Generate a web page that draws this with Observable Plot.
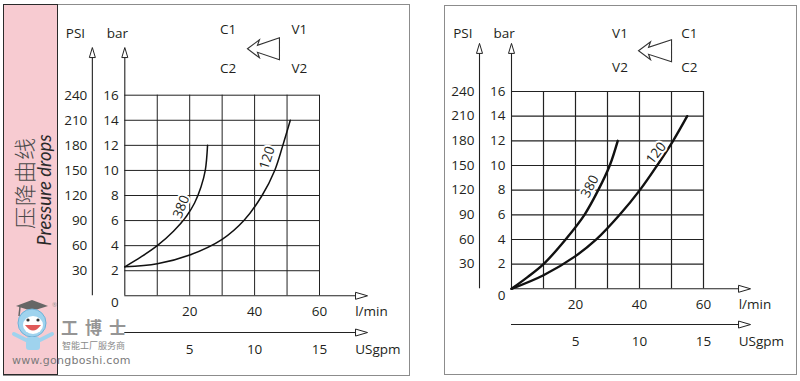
<!DOCTYPE html>
<html>
<head>
<meta charset="utf-8">
<script src="https://cdn.jsdelivr.net/npm/d3@7"></script>
<script src="https://cdn.jsdelivr.net/npm/@observablehq/plot@0.6"></script>
<style>
  body { margin: 0; background: #fff; }
  #wrap { position: relative; width: 800px; height: 381px; overflow: hidden; background: #fff; font-family: "Open Sans", sans-serif; }
  .abs { position: absolute; line-height: 1; }
  .rot { position: absolute; line-height: 1; white-space: nowrap; transform: translate(-50%, -50%) rotate(-90deg); color: #3a3a3a; }
</style>
</head>
<body>
<div id="wrap">
  <div class="abs" style="left:3px;top:4px;width:405px;height:370px;border:1px solid #8c8c8c;"></div>
  <div class="abs" style="left:444px;top:5px;width:351px;height:368px;border:1px solid #8c8c8c;"></div>
  <div class="abs" style="left:3px;top:4px;width:53px;height:369px;background:#f7cbd1;border:1.5px solid #2a2a2a;"></div>
  <div class="rot" style="left:23px;top:183px;font-family:'Noto Sans CJK SC';font-size:22px;font-weight:300;letter-spacing:1px;color:#4a4a4a;">压降曲线</div>
  <div class="rot" style="left:44px;top:190px;font-family:Lato;font-style:italic;font-size:18.5px;color:#2a2a2a;">Pressure drops</div>
  <!-- watermark -->
  <svg class="abs" style="left:8px;top:298px" width="50" height="56" viewBox="0 0 50 56">
    <polygon points="8,8 24,2 40,8 24,13" fill="#666"/>
    <line x1="12" y1="9" x2="11" y2="18" stroke="#666" stroke-width="1.5"/>
    <circle cx="24" cy="25" r="14" fill="#9fd3ee" stroke="#6fb2d8" stroke-width="1"/>
    <ellipse cx="25" cy="27" rx="10" ry="9" fill="#fff"/>
    <path d="M17,27 Q25,38 33,27 Z" fill="#e05a5a"/>
    <circle cx="20" cy="22" r="1.6" fill="#333"/><circle cx="30" cy="22" r="1.6" fill="#333"/>
    <rect x="18" y="39" width="14" height="13" rx="3" fill="#9fd3ee"/>
    <path d="M18,42 L6,36 M32,42 L44,36" stroke="#9fd3ee" stroke-width="4" stroke-linecap="round"/>
  </svg>
  <div class="abs" style="left:61px;top:318px;font-family:'Noto Sans CJK SC';font-weight:700;font-size:17px;letter-spacing:7px;color:#8a8a8a;opacity:0.9;">工博士</div>
  <div class="abs" style="left:62px;top:341px;font-family:'Noto Sans CJK SC';font-size:9px;color:#8a8a8a;">智能工厂服务商</div>
  <div class="abs" style="left:12px;top:355px;font-family:'DejaVu Sans';font-size:11px;letter-spacing:0.3px;color:#7a7a7a;">www.gongboshi.com</div>
  <div class="abs" style="left:52px;top:302px;font-size:6px;color:#999;">®</div>
  <div id="plotL" class="abs" style="left:0;top:0"></div>
  <div id="plotR" class="abs" style="left:420px;top:0"></div>
</div>
<script>
// ---- data ----
const gridLmin = [0, 10, 20, 30, 40, 50, 60];
const gridBar = [2, 4, 6, 8, 10, 12, 14, 16];
const barTicks = [2, 4, 6, 8, 10, 12, 14, 16];
const psiTicks = [30, 60, 90, 120, 150, 180, 210, 240];
const lminTicks = [20, 40, 60];
const usgpmTicks = [5, 10, 15];

// left panel curves [l/min, bar]
const left380 = [[0, 2.31], [5, 3.1], [10, 4.0], [15, 5.15], [19, 6.35], [21.5, 7.4], [23.5, 8.7], [24.8, 10.0], [25.5, 12.0]];
const left120 = [[0, 2.31], [10, 2.55], [20, 3.25], [30, 4.5], [36.7, 6.0], [42.3, 8.0], [46.2, 10.0], [48.7, 12.0], [51, 14.0]];
// right panel curves
const right380 = [[0, 0], [5, 0.95], [10, 2.0], [16.9, 4.0], [22.8, 6.0], [27.1, 8.0], [30.7, 10.0], [33.2, 12.0]];
const right120 = [[0, 0], [10, 1.1], [20, 2.65], [26.5, 4.0], [33.8, 6.0], [40.1, 8.0], [45.5, 10.0], [50.5, 12.0], [54.9, 14.0]];

const curveNames = ["380", "120"];
const portsLeft = [["C1", "V1"], ["C2", "V2"]];
const portsRight = [["V1", "C1"], ["V2", "C2"]];

// ---- symbols ----
const arrowUp = {draw(c) { c.moveTo(0, 0); c.lineTo(-3, 10); c.lineTo(3, 10); c.closePath(); }};
const arrowRight = {draw(c) { c.moveTo(0, 0); c.lineTo(-12, -3.5); c.lineTo(-12, 3.5); c.closePath(); }};
function flowArrow(len) {
  return {draw(c) {
    c.moveTo(0, 0); c.lineTo(12, -9); c.lineTo(10, -3.5); c.lineTo(len, -11);
    c.lineTo(len, 11); c.lineTo(10, 3.5); c.lineTo(12, 9); c.closePath();
  }};
}

function panel(o) {
  const ink = "#231f20";
  const txt = (data, opts) => Plot.text(data, {fill: ink, fontSize: 13.5, ...opts});
  return Plot.plot({
    width: o.width, height: 381,
    x: {domain: [0, 60], range: o.xRange, axis: null},
    y: {domain: [0, 16], range: o.yRange, axis: null},
    style: {background: "transparent", fontFamily: "'Open Sans', sans-serif", overflow: "visible"},
    marks: [
      Plot.ruleX(gridLmin.filter(d => d > 0), {x: d => d, y1: 0, y2: 16, stroke: "#222", strokeWidth: o.gridW}),
      Plot.ruleY(gridBar, {y: d => d, x1: 0, x2: 60, stroke: "#222", strokeWidth: o.gridW}),
      // vertical axes
      Plot.ruleX([0, -10], {x: d => d, y1: 0, y2: o.yTipBase, stroke: "#222", strokeWidth: 1.1}),
      Plot.dot([0, -10], {x: d => d, y: o.yTip, symbol: arrowUp, r: 4, fill: "white", stroke: "#222", strokeWidth: 1}),
      // horizontal axes
      Plot.ruleY([0, o.gpmY], {y: d => d, x1: 0, x2: o.xTipBase, stroke: "#222", strokeWidth: 1.1}),
      Plot.dot([0, o.gpmY], {x: o.xTip, y: d => d, symbol: arrowRight, r: 4, fill: "white", stroke: "#222", strokeWidth: 1}),
      // curves
      Plot.line(o.curves[0], {x: d => d[0], y: d => d[1], curve: "catmull-rom", stroke: "#111", strokeWidth: o.curveW}),
      Plot.line(o.curves[1], {x: d => d[0], y: d => d[1], curve: "catmull-rom", stroke: "#111", strokeWidth: o.curveW}),
      // curve labels
      ...curveNames.map((n, i) => Plot.text([n], {x: o.labelPos[i][0], y: o.labelPos[i][1], text: d => d,
        rotate: o.labelPos[i][2], fontSize: 13.5, fill: ink, stroke: "white", strokeWidth: 4, paintOrder: "stroke"})),
      // tick labels
      txt(barTicks, {x: 0, y: d => d, text: d => String(d), dx: -6, textAnchor: "end"}),
      txt(["0"], {x: 0, y: 0, text: d => d, dx: -6, dy: 7, textAnchor: "end"}),
      txt(psiTicks, {x: -10, y: (d, i) => barTicks[i], text: d => String(d), dx: -5, textAnchor: "end"}),
      txt(lminTicks, {x: d => d, y: 0, text: d => String(d), dy: 16}),
      txt(usgpmTicks, {x: (d, i) => lminTicks[i], y: o.gpmY, text: d => String(d), dy: 17}),
      txt(["l/min"], {x: 71, y: 0, text: d => d, dy: 16, textAnchor: "start"}),
      txt(["USgpm"], {x: 71, y: o.gpmY, text: d => d, dy: 17, textAnchor: "start"}),
      txt(["PSI"], {x: -15.2, y: o.titleY, text: d => d}),
      txt(["bar"], {x: -2.3, y: o.titleY, text: d => d}),
      // port labels and flow arrow
      ...o.ports.flatMap((row, r) => row.map((p, c) => txt([p], {x: o.portX[c], y: o.portY[r], text: d => d}))),
      Plot.dot([o.flowTip], {x: d => d[0], y: d => d[1], symbol: flowArrow(o.flowLen), r: 4, fill: "white", stroke: "#333", strokeWidth: 1.1})
    ]
  });
}

document.getElementById("plotL").appendChild(panel({
  width: 410, xRange: [124.3, 319], yRange: [295.3, 94.7],
  gridW: 1, curveW: 1.5,
  yTip: 19.8, yTipBase: 19.0, xTip: 74.8, xTipBase: 71.1, gpmY: -2.93, titleY: 20.9,
  curves: [left380, left120],
  labelPos: [[17.4, 7.1, -68], [43.9, 11.0, -72]],
  ports: portsLeft, portX: [31.8, 53.8], portY: [21.2, 18.1],
  flowTip: [37.8, 19.7], flowLen: 32
}));

document.getElementById("plotR").appendChild(panel({
  width: 380, xRange: [91, 283], yRange: [288.3, 91],
  gridW: 1.2, curveW: 2.4,
  yTip: 19.9, yTipBase: 19.1, xTip: 74.7, xTipBase: 71.0, gpmY: -2.9, titleY: 20.7,
  curves: [right380, right120],
  labelPos: [[24.5, 8.3, -63], [45.2, 11.0, -52]],
  ports: portsRight, portX: [33.9, 55.6], portY: [20.7, 17.9],
  flowTip: [39.7, 19.3], flowLen: 33
}));
</script>
</body>
</html>
